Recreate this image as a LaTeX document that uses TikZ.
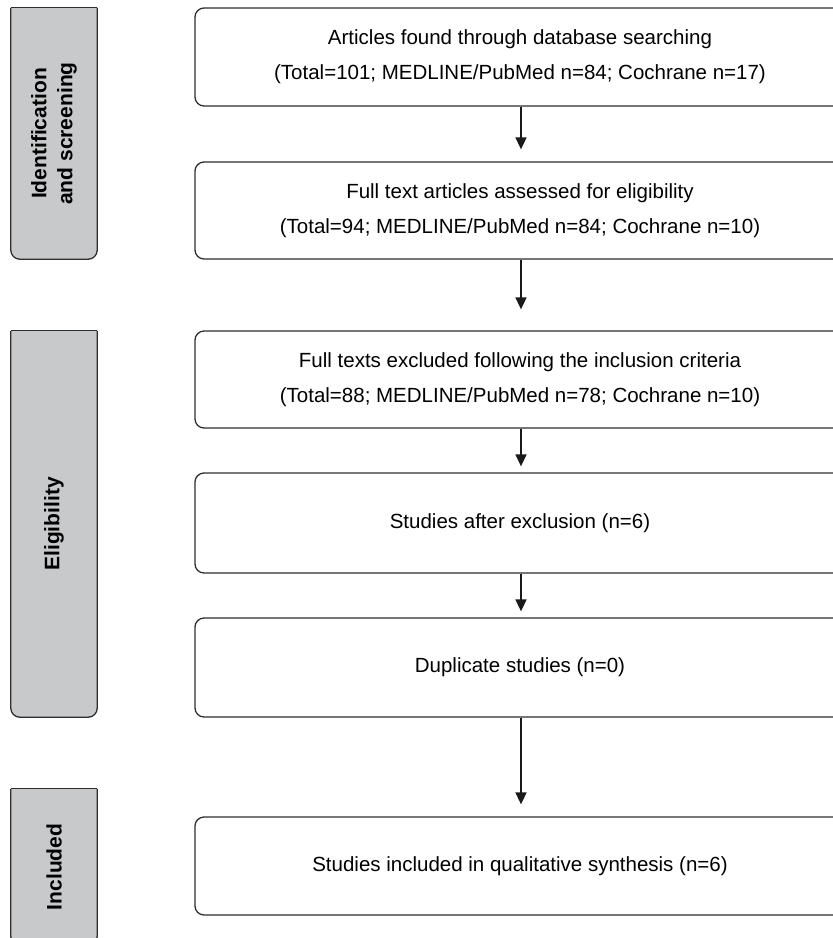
\documentclass[tikz,border=0pt]{standalone}
\usepackage{fontspec}
\setmainfont{Liberation Sans}
\usetikzlibrary{arrows.meta,backgrounds}
\definecolor{panelgray}{HTML}{C8C9CB}
\definecolor{linegray}{HTML}{2E2E2E}
\tikzset{
  mainbox/.style={draw=linegray, line width=1.3pt, rounded corners=9pt, fill=white,
    minimum width=650pt, inner sep=0pt, align=center, font=\fontsize{20.5}{35}\selectfont},
  paneltext/.style={rotate=90, align=center, inner sep=0pt, font=\fontsize{21}{26}\selectfont\bfseries},
  panelshape/.style={draw=linegray, line width=1.3pt, fill=panelgray, rounded corners=9pt},
  arr/.style={draw=black!90, line width=1.6pt, -{Triangle[length=12pt,width=11pt]}}
}
\begin{document}
\begin{tikzpicture}[x=1pt,y=-1pt]
\useasboundingbox (0,0) rectangle (833,938);
% main boxes (right side runs past the page edge)
\node[mainbox, minimum height=98pt]  (b1) at (520,57)   {Articles found through database searching\\(Total=101; MEDLINE/PubMed n=84; Cochrane n=17)};
\node[mainbox, minimum height=97pt]  (b2) at (520,210.5){Full text articles assessed for eligibility\\(Total=94; MEDLINE/PubMed n=84; Cochrane n=10)};
\node[mainbox, minimum height=97pt]  (b3) at (520,379.5){Full texts excluded following the inclusion criteria\\(Total=88; MEDLINE/PubMed n=78; Cochrane n=10)};
\node[mainbox, minimum height=100pt] (b4) at (520,523)  {Studies after exclusion (n=6)};
\node[mainbox, minimum height=99pt]  (b5) at (520,667.5){Duplicate studies (n=0)};
\node[mainbox, minimum height=98pt]  (b6) at (520,866)  {Studies included in qualitative synthesis (n=6)};
% side panels
\node[paneltext, minimum width=251pt, minimum height=86pt] (p1) at (54,133.5) {Identification\\and screening};
\node[paneltext, minimum width=386pt, minimum height=86pt] (p2) at (54,524)   {Eligibility};
\node[paneltext, minimum width=156pt, minimum height=86pt] (p3) at (54,867)   {Included};
\begin{scope}[on background layer]
\foreach \p in {p1,p2,p3}{
  \filldraw[panelshape] (\p.south east) -- (\p.south west) -- (\p.north west) -- (\p.north east);
  \draw[draw=linegray, line width=1.3pt] (\p.south east) -- (\p.north east);
}
\end{scope}
% arrows
\draw[arr] ([xshift=1pt]b1.south) -- ([xshift=1pt,yshift=12pt]b2.north);
\draw[arr] ([xshift=1pt]b2.south) -- ([xshift=1pt,yshift=21pt]b3.north);
\draw[arr] ([xshift=1pt]b3.south) -- ([xshift=1pt,yshift=6pt]b4.north);
\draw[arr] ([xshift=1pt]b4.south) -- ([xshift=1pt,yshift=6pt]b5.north);
\draw[arr] ([xshift=1pt]b5.south) -- ([xshift=1pt,yshift=12pt]b6.north);
\end{tikzpicture}
\end{document}
